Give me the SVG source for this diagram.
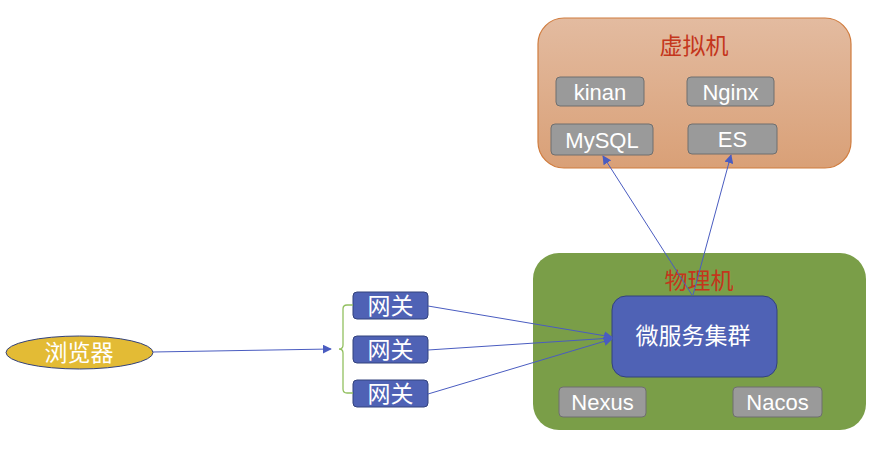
<svg xmlns="http://www.w3.org/2000/svg" width="887" height="461" viewBox="0 0 887 461">
<defs>
<linearGradient id="vmGrad" x1="0" y1="0" x2="0" y2="1">
<stop offset="0" stop-color="#e3bba0"/>
<stop offset="1" stop-color="#d9a077"/>
</linearGradient>
<marker id="arr" viewBox="0 0 10 10" refX="9" refY="5" markerWidth="9" markerHeight="9" orient="auto" markerUnits="userSpaceOnUse">
<path d="M0,0 L10,5 L0,10 z" fill="#4a5cc0"/>
</marker>
<style>
text{font-family:"Liberation Sans","Noto Sans CJK SC",sans-serif;text-anchor:middle;dominant-baseline:central}
.gray rect{fill:#9a9a9a;stroke:#6f6f6f;stroke-width:1}
.gray text{fill:#ffffff;font-size:22px}
.title{fill:#c4361c;font-size:23px}
.blue rect{fill:#4f62b5;stroke:#33427d;stroke-width:1}
.wt{fill:#ffffff;font-size:23px}
.conn line{stroke:#4a5cc0;stroke-width:1;fill:none}
</style>
</defs>
<g id="vm">
<rect x="538" y="18" width="313" height="150" rx="26" fill="url(#vmGrad)" stroke="#d07c3e" stroke-width="1.2"/>
<text class="title" x="694" y="46">虚拟机</text>
</g>
<g id="kinan" class="gray"><rect x="556" y="77" width="88" height="29" rx="4"/><text x="600" y="92">kinan</text></g>
<g id="nginx" class="gray"><rect x="687" y="77" width="87" height="29" rx="4"/><text x="730.5" y="92">Nginx</text></g>
<g id="mysql" class="gray"><rect x="551" y="124" width="102" height="31" rx="4"/><text x="602" y="140">MySQL</text></g>
<g id="es" class="gray"><rect x="688" y="124" width="89" height="30" rx="4"/><text x="732.5" y="139.5">ES</text></g>
<g id="pm">
<rect x="533" y="253" width="333" height="177" rx="26" fill="#7a9e48"/>
<text class="title" x="699" y="281">物理机</text>
</g>
<g id="nexus" class="gray"><rect x="559" y="387" width="87" height="30" rx="4"/><text x="602.5" y="402.5">Nexus</text></g>
<g id="nacos" class="gray"><rect x="733" y="387" width="89" height="30" rx="4"/><text x="777.5" y="402.5">Nacos</text></g>
<g id="browser">
<ellipse cx="79.5" cy="352.5" rx="73.5" ry="16.5" fill="#e3bb35" stroke="#33427d" stroke-width="1"/>
<text class="wt" x="79" y="353">浏览器</text>
</g>
<g id="gw1" class="blue"><rect x="353" y="292" width="75" height="27" rx="4"/><text class="wt" x="390.5" y="306">网关</text></g>
<g id="gw2" class="blue"><rect x="353" y="336" width="75" height="27" rx="4"/><text class="wt" x="390.5" y="350">网关</text></g>
<g id="gw3" class="blue"><rect x="353" y="380" width="75" height="27" rx="4"/><text class="wt" x="390.5" y="394">网关</text></g>
<g id="brace">
<path d="M353,305 L347,305 Q343,305 343,309 L343,345 Q343,349 339,349 Q343,349 343,353 L343,389 Q343,393 347,393 L353,393" fill="none" stroke="#92c060" stroke-width="1.3"/>
</g>
<g id="cluster" class="blue">
<rect x="612" y="296" width="165" height="81" rx="14"/>
<text class="wt" x="693" y="336">微服务集群</text>
</g>
<g id="connectors" class="conn">
<line x1="153" y1="352" x2="331" y2="349" marker-end="url(#arr)"/>
<line x1="428" y1="306" x2="612" y2="337" marker-end="url(#arr)"/>
<line x1="428" y1="350" x2="612" y2="338" marker-end="url(#arr)"/>
<line x1="428" y1="394" x2="612" y2="339" marker-end="url(#arr)"/>
<line x1="692" y1="295" x2="603" y2="156" marker-end="url(#arr)"/>
<line x1="693" y1="295" x2="731" y2="155" marker-end="url(#arr)"/>
</g>
</svg>
